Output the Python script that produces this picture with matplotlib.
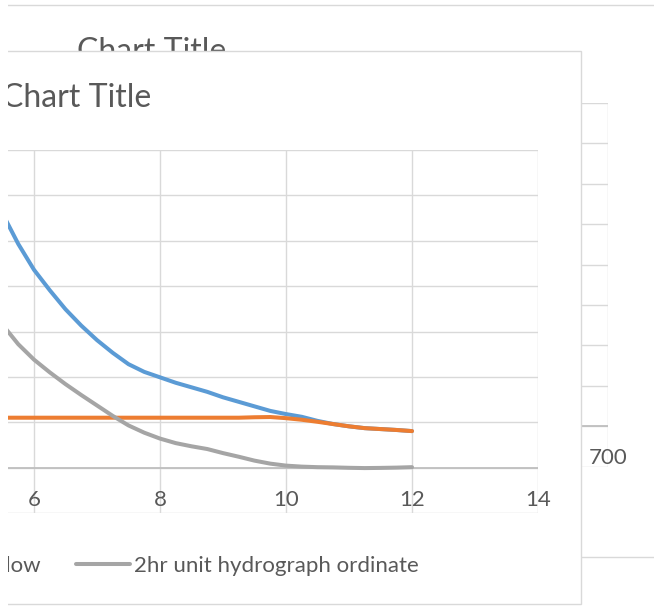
import matplotlib
matplotlib.use("Agg")
import matplotlib.pyplot as plt
from matplotlib.patches import Rectangle
from matplotlib.lines import Line2D

plt.rcParams['font.family'] = ['Lato', 'DejaVu Sans']

# --- data (hours vs flow) ---
hours = [5.5, 5.75, 6.0, 6.25, 6.5, 6.75, 7.0, 7.25, 7.5, 7.75, 8.0, 8.25, 8.5,
         8.75, 9.0, 9.25, 9.5, 9.75, 10.0, 10.25, 10.5, 10.75, 11.0, 11.25,
         11.5, 11.75, 12.0]
total_flow = [560, 493, 436, 391, 349, 313, 281, 253, 228, 211, 199, 187, 177,
              167, 155, 145, 135, 125, 118, 112, 103, 96, 91, 87, 85, 83, 80.5]
base_flow = [110, 110, 110, 110, 110, 110, 110, 110, 110, 110, 110, 110, 110,
             110, 110, 110, 111, 111.5, 109, 105.5, 101, 96, 91, 87, 85, 83, 80.5]
uh_ordinate = [315, 272, 238, 210, 184, 160, 137, 114, 93, 77, 64, 54, 47,
               41, 32, 24, 15.4, 8.8, 4.4, 2.2, 1, 0.5, -0.4, -1, -0.6, 0, 1]
series_names = ["Total flow", "Base flow", "2hr unit hydrograph ordinate"]

x_ticks = [6, 8, 10, 12, 14]
y_ticks = list(range(-100, 701, 100))

# chart behind (only its right edge shows)
back_x_ticks = [0, 100, 200, 300, 400, 500, 600, 700]
back_y_ticks = list(range(-1, 9))

BLUE, ORANGE, GREY = "#5B9BD5", "#ED7D31", "#A5A5A5"
GRID, AXIS, TXT = "#D9D9D9", "#BFBFBF", "#595959"
TITLE_FS, LABEL_FS = 23, 16

W, H = 654, 606
def fx(px): return px / W
def fy(py): return 1 - py / H

fig = plt.figure(figsize=(W / 100, H / 100), dpi=100)

# ---- back chart: frame lines, title, plot area ----
for yy in (4.5, 556.5):
    fig.add_artist(Line2D([0, 1], [fy(yy), fy(yy)], transform=fig.transFigure,
                          color=GRID, lw=1, zorder=1))
fig.text(fx(151.5), fy(60.6), "Chart Title", ha="center", va="baseline",
         fontsize=TITLE_FS, color=TXT, zorder=1)

axb = fig.add_axes([fx(300), fy(466.5), fx(608) - fx(300), (466.5 - 103) / H])
axb.set_zorder(1)
axb.set_xlim(back_x_ticks[0], back_x_ticks[-1])
axb.set_ylim(back_y_ticks[0], back_y_ticks[-1])
axb.set_xticks(back_x_ticks); axb.set_yticks(back_y_ticks)
axb.grid(True, color=GRID, lw=1)
axb.axhline(0, color=AXIS, lw=1.3)
axb.tick_params(length=0, labelbottom=False, labelleft=False)
for s in axb.spines.values():
    s.set_visible(False)
axb.text(back_x_ticks[-1], -0.8, str(back_x_ticks[-1]), ha="center", va="center",
         fontsize=LABEL_FS, color=TXT)

# ---- front chart area ----
fig.add_artist(Rectangle((fx(-20), fy(603.5)), fx(581) - fx(-20), (603.5 - 50.5) / H,
                         transform=fig.transFigure, facecolor="white",
                         edgecolor=GRID, lw=1, zorder=2))

ax = fig.add_axes([0, fy(513), fx(538), (513 - 150) / H])
ax.set_zorder(3)
ax.set_facecolor("none")
ax.set_xlim(6 - 34 / 63, 14)
ax.set_ylim(y_ticks[0], y_ticks[-1])
ax.set_xticks(x_ticks); ax.set_yticks(y_ticks)
ax.grid(True, color=GRID, lw=1)
ax.set_axisbelow(True)
ax.axhline(0, color=AXIS, lw=1.3, zorder=1)
ax.tick_params(length=0, labelbottom=False, labelleft=False)
for s in ax.spines.values():
    s.set_visible(False)

l1, = ax.plot(hours, total_flow, color=BLUE, lw=2.9, solid_capstyle="round",
              solid_joinstyle="round", label=series_names[0], zorder=2)
l2, = ax.plot(hours, base_flow, color=ORANGE, lw=2.9, solid_capstyle="round",
              solid_joinstyle="round", label=series_names[1], zorder=2)
l3, = ax.plot(hours, uh_ordinate, color=GREY, lw=2.9, solid_capstyle="round",
              solid_joinstyle="round", label=series_names[2], zorder=2)

for t in x_ticks:
    ax.text(t, -72, str(t), ha="center", va="center", fontsize=LABEL_FS, color=TXT)

fig.text(fx(76.5), fy(107.3), "Chart Title", ha="center", va="baseline",
         fontsize=TITLE_FS, color=TXT, zorder=4)

fpx = LABEL_FS * 100 / 72
ax.legend(handles=[l1, l2, l3], ncol=3, loc="center right",
          bbox_to_anchor=(fx(419), fy(565.5)), bbox_transform=fig.transFigure,
          frameon=False, fontsize=LABEL_FS, labelcolor=TXT,
          handlelength=54 / fpx, handletextpad=4 / fpx, columnspacing=36 / fpx,
          borderpad=0, borderaxespad=0)

# left strip hidden in the screenshot
fig.add_artist(Rectangle((0, 0), fx(8), 1, transform=fig.transFigure,
                         facecolor="white", edgecolor="none", zorder=10))

fig.savefig("out.png", dpi=100, facecolor="white")
